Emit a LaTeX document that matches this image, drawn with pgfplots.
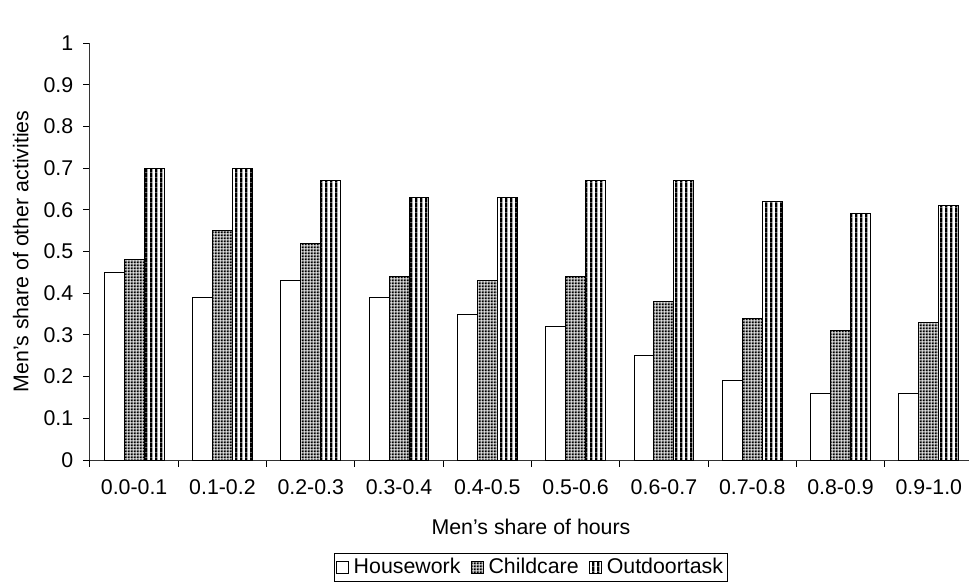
\documentclass[border=0pt]{standalone}
\usepackage{pgfplots}
\pgfplotsset{compat=1.18}
\usepackage{fontspec}
\setmainfont{Liberation Sans}
\usetikzlibrary{patterns.meta}

\pgfdeclarepattern{name=vstripes, type=uncolored,
  bottom left={\pgfpoint{0pt}{0pt}}, top right={\pgfpoint{3.9pt}{3.9pt}},
  tile size={\pgfpoint{3.9pt}{3.9pt}},
  code={\pgfpathrectangle{\pgfpoint{0pt}{-0.1pt}}{\pgfpoint{2.1pt}{4.1pt}}\pgfusepath{fill}}}
\pgfdeclarepattern{name=blkgrid, type=colored,
  bottom left={\pgfpoint{0pt}{0pt}}, top right={\pgfpoint{2.4pt}{2.4pt}},
  tile size={\pgfpoint{2.4pt}{2.4pt}},
  code={\pgfsetfillcolor{white}\pgfpathrectangle{\pgfpointorigin}{\pgfpoint{2.4pt}{2.4pt}}\pgfusepath{fill}
        \pgfsetfillcolor{black}\pgfpathrectangle{\pgfpoint{0.5pt}{0.5pt}}{\pgfpoint{1.9pt}{1.9pt}}\pgfusepath{fill}}}

\pgfplotstableread{
x  house child outdoor
0  0.45  0.48  0.70
1  0.39  0.55  0.70
2  0.43  0.52  0.67
3  0.39  0.44  0.63
4  0.35  0.43  0.63
5  0.32  0.44  0.67
6  0.25  0.38  0.67
7  0.19  0.34  0.62
8  0.16  0.31  0.59
9  0.16  0.33  0.61
}\datatable

\begin{document}
\fontsize{16}{19}\selectfont
\begin{tikzpicture}
\begin{axis}[
  font=\fontsize{16}{19}\selectfont,
  tick label style={font=\fontsize{16}{19}\selectfont},
  label style={font=\fontsize{16}{19}\selectfont},
  legend style={font=\fontsize{16}{19}\selectfont},
  /pgf/number format/assume math mode=true,
  scale only axis, width=659.25pt, height=312.75pt,
  xmin=-0.5, xmax=9.455, ymin=0, ymax=1,
  axis x line=bottom, axis y line=left,
  axis line style={-, line width=0.75pt, black!80},
  ybar, bar width=0.226,
  xtick={0,...,9},
  xticklabels={0.0-0.1,0.1-0.2,0.2-0.3,0.3-0.4,0.4-0.5,0.5-0.6,0.6-0.7,0.7-0.8,0.8-0.9,0.9-1.0},
  major x tick style={draw=none},
  minor xtick={-0.5,0.5,...,9.5},
  minor x tick style={line width=0.75pt, black},
  ytick={0,0.1,0.2,0.3,0.4,0.5,0.6,0.7,0.8,0.9,1},
  yticklabels={0,0.1,0.2,0.3,0.4,0.5,0.6,0.7,0.8,0.9,1},
  major y tick style={line width=0.75pt, black},
  tick align=outside,
  major tick length=5pt, minor tick length=5pt,
  yticklabel style={xshift=-2pt},
  xticklabel style={anchor=center, yshift=-15pt},
  xlabel={Men's share of hours},
  ylabel={Men's share of other activities},
  every axis x label/.style={at={([yshift=-50.25pt]axis description cs:0.5017,0)}, anchor=center},
  every axis y label/.style={at={([xshift=-52pt]axis description cs:0,0.5)}, anchor=center, rotate=90},
  legend style={at={([yshift=-70pt]axis description cs:0.5017,0)}, anchor=north,
    legend columns=-1, draw=black, line width=0.75pt, inner sep=1.5pt,
    /tikz/every odd column/.append style={column sep=1.5pt},
    /tikz/every even column/.append style={column sep=6pt}},
  legend image code/.code={\draw[#1, line width=0.6pt] (0pt,-4pt) rectangle (9pt,5pt);},
  legend cell align=left,
]
\addplot[draw=black, line width=0.75pt, fill=white, bar shift=-0.226] table[x=x, y=house] {\datatable};
\addplot[draw=black, line width=0.75pt, pattern=blkgrid, bar shift=0] table[x=x, y=child] {\datatable};
\addplot[draw=black, line width=0.75pt, fill=white, postaction={pattern=vstripes, pattern color=black}, bar shift=0.226] table[x=x, y=outdoor] {\datatable};
\legend{Housework,Childcare,Outdoortask}
\coordinate (sw) at (rel axis cs:0,0);
\end{axis}
\pgfresetboundingbox
\path[use as bounding box] ([shift={(-67.5pt,-94.5pt)}]sw) rectangle ([shift={(659.25pt,345pt)}]sw);
\end{tikzpicture}
\end{document}
